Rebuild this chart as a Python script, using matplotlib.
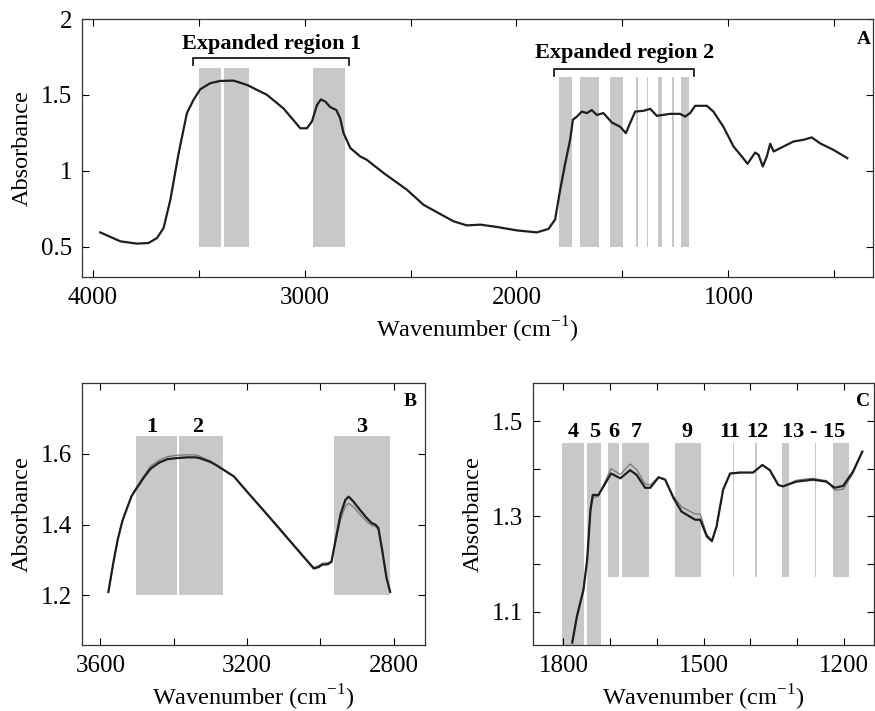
import matplotlib
matplotlib.use("Agg")
import matplotlib.pyplot as plt
import numpy as np

plt.rcParams['font.family'] = ['Liberation Serif', 'DejaVu Serif']
plt.rcParams['mathtext.fontset'] = 'custom'
plt.rcParams['mathtext.rm'] = 'Liberation Serif'

# ---------------- Panel A data ----------------
a_wn = [3964, 3869, 3791, 3736, 3696, 3665, 3633, 3594, 3555, 3524, 3492, 3445, 3398, 3335,
        3272, 3177, 3099, 3020, 2989, 2965, 2941, 2923, 2902, 2879, 2850, 2832, 2816, 2784,
        2737, 2706, 2627, 2517, 2439, 2360, 2297, 2234, 2171, 2093, 1998, 1904, 1849, 1818,
        1794, 1770, 1747, 1734, 1715, 1692, 1668, 1645, 1621, 1590, 1550, 1511, 1484, 1464,
        1440, 1401, 1369, 1338, 1275, 1228, 1204, 1181, 1157, 1102, 1071, 1024, 976, 937,
        910, 874, 858, 838, 819, 803, 787, 740, 693, 646, 607, 567, 505, 439]
a_abs = [0.594, 0.535, 0.52, 0.524, 0.557, 0.623, 0.81, 1.116, 1.38, 1.467, 1.537, 1.577, 1.592, 1.594,
         1.566, 1.50, 1.41, 1.28, 1.28, 1.325, 1.434, 1.47, 1.456, 1.42, 1.40, 1.347, 1.248, 1.15,
         1.094, 1.072, 0.985, 0.875, 0.776, 0.715, 0.667, 0.64, 0.645, 0.63, 0.607, 0.594, 0.617, 0.678,
         0.875, 1.05, 1.204, 1.336, 1.357, 1.39, 1.38, 1.40, 1.368, 1.38, 1.318, 1.29, 1.248, 1.314,
         1.39, 1.395, 1.408, 1.362, 1.375, 1.375, 1.357, 1.38, 1.428, 1.428, 1.39, 1.29, 1.16, 1.094,
         1.046, 1.12, 1.105, 1.028, 1.094, 1.178, 1.127, 1.16, 1.193, 1.204, 1.22, 1.18, 1.138, 1.083]

a_bands_1 = [(3500, 3396), (3382, 3264), (2962, 2811)]
a_bands_2 = [(1800, 1738), (1701, 1610), (1560, 1498), (1434, 1429), (1384, 1379),
             (1332, 1313), (1264, 1259), (1223, 1187)]
a_regions = [(3525, 2790, 'Expanded region 1'), (1822, 1162, 'Expanded region 2')]

# ---------------- Panel B data ----------------
b_wn = [3578, 3565, 3553, 3540, 3526, 3515, 3501, 3480, 3463, 3440, 3417, 3390, 3363, 3340,
        3327, 3300, 3281, 3260, 3236, 3190, 3145, 3100, 3060, 3030, 3018, 3005, 2995, 2980,
        2970, 2960, 2945, 2932, 2923, 2910, 2895, 2875, 2860, 2850, 2842, 2832, 2820, 2810]
b_abs = [1.21, 1.29, 1.356, 1.41, 1.45, 1.48, 1.503, 1.535, 1.558, 1.575, 1.585, 1.588, 1.590, 1.590,
         1.587, 1.577, 1.566, 1.552, 1.536, 1.481, 1.428, 1.374, 1.326, 1.29, 1.276, 1.28, 1.287, 1.288,
         1.295, 1.35, 1.43, 1.47, 1.479, 1.465, 1.445, 1.42, 1.404, 1.40, 1.39, 1.33, 1.25, 1.21]
b_abs_rep = [1.21, 1.29, 1.356, 1.41, 1.45, 1.482, 1.506, 1.54, 1.565, 1.582, 1.592, 1.596, 1.597, 1.597,
             1.592, 1.580, 1.567, 1.553, 1.537, 1.482, 1.430, 1.376, 1.328, 1.292, 1.279, 1.284, 1.291, 1.292,
             1.297, 1.345, 1.415, 1.452, 1.460, 1.450, 1.432, 1.41, 1.397, 1.395, 1.385, 1.325, 1.25, 1.21]
b_bands = [(3502, 3390), (3385, 3265), (2963, 2811)]
b_labels = [(3461, '1'), (3336, '2'), (2887, '3')]

# ---------------- Panel C data ----------------
c_wn = [1781, 1771, 1757, 1749, 1742, 1737, 1725, 1714, 1698, 1678, 1657, 1643, 1625, 1614,
        1596, 1582, 1564, 1547, 1518, 1507, 1493, 1482, 1472, 1458, 1443, 1422, 1394, 1374,
        1358, 1340, 1330, 1301, 1266, 1237, 1219, 1201, 1180, 1160]
c_abs = [1.035, 1.09, 1.146, 1.209, 1.314, 1.345, 1.345, 1.363, 1.39, 1.38, 1.397, 1.387, 1.36, 1.36,
         1.382, 1.377, 1.338, 1.31, 1.293, 1.293, 1.258, 1.248, 1.279, 1.356, 1.39, 1.392, 1.392, 1.408,
         1.397, 1.366, 1.363, 1.373, 1.377, 1.373, 1.36, 1.364, 1.394, 1.436]
c_abs_rep = [1.035, 1.09, 1.146, 1.209, 1.31, 1.34, 1.342, 1.366, 1.40, 1.388, 1.41, 1.398, 1.368, 1.366,
             1.383, 1.377, 1.342, 1.32, 1.305, 1.305, 1.262, 1.25, 1.279, 1.356, 1.39, 1.392, 1.392, 1.408,
             1.397, 1.366, 1.363, 1.376, 1.38, 1.375, 1.355, 1.357, 1.39, 1.436]
c_bands_low = [(1803, 1755), (1749, 1719)]
c_bands_high = [(1705, 1680), (1674, 1616), (1561, 1505), (1437, 1434), (1389, 1386),
                (1331, 1318), (1262, 1259), (1223, 1189)]
c_labels = [(1779, '4'), (1734, '5'), (1693, '6'), (1644, '7'), (1535, '9'),
            (1443, '11'), (1384, '12'), (1264, '13 - 15')]

BAND = '#c8c8c8'
LINE = '#1e1e1e'
FS = 18
LFS = 17.5
XLAB = 'Wavenumber (cm$^{\\mathregular{-1}}$)'

fig = plt.figure(figsize=(8.75, 7.11), dpi=100)


def style(ax):
    ax.tick_params(direction='in', top=True, right=True, length=5, width=0.8,
                   labelsize=FS, pad=7)
    ax.tick_params(which='minor', direction='in', top=True, right=True, length=5, width=0.8)
    for s in ax.spines.values():
        s.set_linewidth(0.9)
        s.set_color('#333333')


# ---------------- Panel A ----------------
axA = fig.add_axes([82 / 875, 1 - 277 / 711, (873 - 82) / 875, (277 - 19) / 711])
for lo, hi in a_bands_1:
    axA.fill_between([lo, hi], 0.5, 1.68, color=BAND, lw=0, zorder=1)
for lo, hi in a_bands_2:
    axA.fill_between([lo, hi], 0.5, 1.62, color=BAND, lw=0, zorder=1)
axA.plot(a_wn, a_abs, color=LINE, lw=1.6, zorder=3)
for (lo, hi, txt), ytop, ytxt in zip(a_regions, [1.74, 1.67], [1.835, 1.775]):
    axA.plot([lo, lo, hi, hi], [ytop - 0.045, ytop, ytop, ytop - 0.045], color=LINE, lw=1.3)
    axA.text((lo + hi) / 2, ytxt, txt, ha='center', va='center', fontsize=16, fontweight='bold')
axA.set_xlim(4050, 318)
axA.set_ylim(0.3, 2.0)
axA.set_xticks([4000, 3000, 2000, 1000])
axA.set_xticks([3500, 2500, 1500, 500], minor=True)
axA.set_yticks([0.5, 1, 1.5, 2])
axA.set_yticklabels(['0.5', '1', '1.5', '2'])
style(axA)
axA.set_xlabel(XLAB, fontsize=LFS, labelpad=4)
axA.set_ylabel('Absorbance', fontsize=LFS, labelpad=6)
axA.text(0.997, 0.92, 'A', transform=axA.transAxes, ha='right', va='center',
         fontsize=14, fontweight='bold')

# ---------------- Panel B ----------------
axB = fig.add_axes([82 / 875, 1 - 645 / 711, (425 - 82) / 875, (645 - 383) / 711])
for lo, hi in b_bands:
    axB.fill_between([lo, hi], 1.2, 1.65, color=BAND, lw=0, zorder=1)
axB.plot(b_wn, b_abs_rep, color='#777777', lw=0.9, zorder=2)
axB.plot(b_wn, b_abs, color=LINE, lw=1.6, zorder=3)
for x, t in b_labels:
    axB.text(x, 1.675, t, ha='center', va='center', fontsize=16, fontweight='bold')
axB.set_xlim(3650, 2715)
axB.set_ylim(1.06, 1.8)
axB.set_xticks([3600, 3200, 2800])
axB.set_xticks([3400, 3000], minor=True)
axB.set_yticks([1.2, 1.4, 1.6])
style(axB)
axB.set_xlabel(XLAB, fontsize=LFS, labelpad=4)
axB.set_ylabel('Absorbance', fontsize=LFS, labelpad=6)
axB.text(0.975, 0.93, 'B', transform=axB.transAxes, ha='right', va='center',
         fontsize=14, fontweight='bold')

# ---------------- Panel C ----------------
axC = fig.add_axes([533 / 875, 1 - 645 / 711, (874 - 533) / 875, (645 - 383) / 711])
for lo, hi in c_bands_low:
    axC.fill_between([lo, hi], 1.0, 1.455, color=BAND, lw=0, zorder=1)
for lo, hi in c_bands_high:
    axC.fill_between([lo, hi], 1.172, 1.455, color=BAND, lw=0, zorder=1)
axC.plot(c_wn, c_abs_rep, color='#777777', lw=0.9, zorder=2)
axC.plot(c_wn, c_abs, color=LINE, lw=1.6, zorder=3)
for x, t in c_labels:
    axC.text(x, 1.478, t, ha='center', va='center', fontsize=16, fontweight='bold')
axC.set_xlim(1865, 1135)
axC.set_ylim(1.03, 1.58)
axC.set_xticks([1800, 1500, 1200])
axC.set_xticks([1700, 1600, 1400, 1300], minor=True)
axC.set_yticks([1.1, 1.3, 1.5])
axC.set_yticks([1.2, 1.4], minor=True)
style(axC)
axC.set_xlabel(XLAB, fontsize=LFS, labelpad=4)
axC.set_ylabel('Absorbance', fontsize=LFS, labelpad=6)
axC.text(0.99, 0.93, 'C', transform=axC.transAxes, ha='right', va='center',
         fontsize=14, fontweight='bold')

fig.savefig('out.png', dpi=100)
